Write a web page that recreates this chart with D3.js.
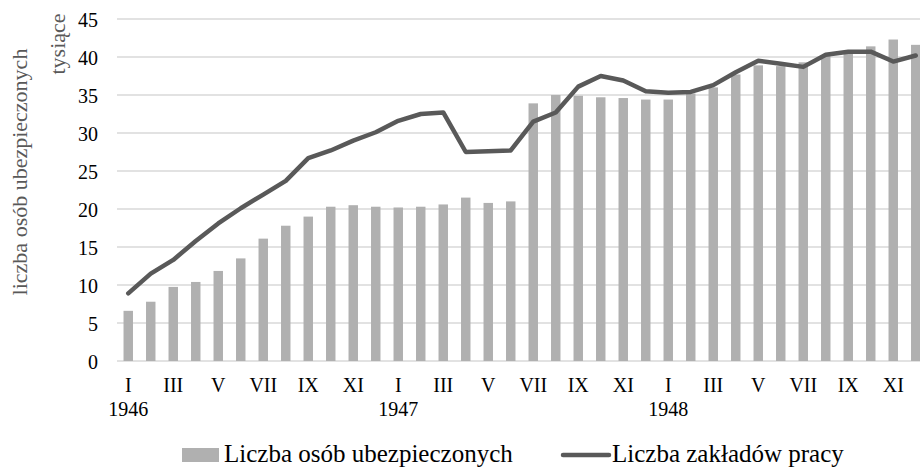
<!DOCTYPE html>
<html>
<head>
<meta charset="utf-8">
<script src="https://cdn.jsdelivr.net/npm/d3@7"></script>
<style>
  body { margin: 0; background: #fff; }
  svg text { font-family: "Liberation Serif", "Times New Roman", serif; }
</style>
</head>
<body>
<div id="chart"></div>
<script>
'use strict';

var miesiace = ['I', 'II', 'III', 'IV', 'V', 'VI', 'VII', 'VIII', 'IX', 'X', 'XI', 'XII'];
var lata = ['1946', '1947', '1948'];

// liczba osób ubezpieczonych (tys.)
var ubezpieczeni = [6.6, 7.8, 9.75, 10.4, 11.85, 13.5, 16.1, 17.8, 19.0, 20.3, 20.5, 20.3,
  20.2, 20.3, 20.6, 21.5, 20.8, 21.0, 33.9, 35.0, 34.9, 34.7, 34.6, 34.4,
  34.4, 35.2, 36.0, 37.7, 38.9, 38.8, 39.3, 40.2, 40.5, 41.4, 42.3, 41.6];

// liczba zakładów pracy
var zaklady = [8.9, 11.5, 13.3, 15.8, 18.1, 20.1, 21.9, 23.7, 26.7, 27.7, 29.0, 30.1,
  31.6, 32.5, 32.7, 27.5, 27.6, 27.7, 31.5, 32.7, 36.1, 37.5, 36.9, 35.5,
  35.3, 35.4, 36.3, 38.0, 39.5, 39.1, 38.7, 40.3, 40.7, 40.7, 39.4, 40.2];

var yTicks = [0, 5, 10, 15, 20, 25, 30, 35, 40, 45];

var width = 920, height = 470;
var serif = '"Liberation Serif", "Times New Roman", serif';

var data = [];
lata.forEach(function(rok, r) {
  miesiace.forEach(function(m, i) {
    var k = r * 12 + i;
    data.push({ idx: k, miesiac: m, rok: rok, ub: ubezpieczeni[k], zk: zaklady[k] });
  });
});

var svg = d3.select('#chart').append('svg')
  .attr('width', width)
  .attr('height', height)
  .style('font-family', serif);

var x = d3.scaleBand()
  .domain(data.map(function(d) { return d.idx; }))
  .range([117, 927])
  .paddingInner(0.58)
  .paddingOuter(0.29);

var y = d3.scaleLinear()
  .domain([0, 45])
  .range([361, 19]);

// gridlines
svg.append('g')
  .selectAll('line')
  .data(yTicks)
  .enter().append('line')
  .attr('x1', 117)
  .attr('x2', width)
  .attr('y1', function(d) { return y(d); })
  .attr('y2', function(d) { return y(d); })
  .attr('stroke', '#d9d9d9')
  .attr('stroke-width', 1.5);

// y axis labels
var yAxis = svg.append('g')
  .attr('transform', 'translate(98,0)')
  .call(d3.axisLeft(y).tickValues(yTicks).tickSize(0).tickPadding(0));
yAxis.attr('font-family', null);
yAxis.select('.domain').remove();
yAxis.selectAll('text')
  .style('font-family', serif)
  .attr('font-size', 20)
  .attr('fill', '#000')
  .attr('dy', '0.38em');

// bars
svg.append('g')
  .selectAll('rect')
  .data(data)
  .enter().append('rect')
  .attr('x', function(d) { return x(d.idx); })
  .attr('y', function(d) { return y(d.ub); })
  .attr('width', x.bandwidth())
  .attr('height', function(d) { return y(0) - y(d.ub); })
  .attr('fill', '#b0b0b0');

// line
var line = d3.line()
  .x(function(d) { return x(d.idx) + x.bandwidth() / 2; })
  .y(function(d) { return y(d.zk); });

svg.append('path')
  .datum(data)
  .attr('d', line)
  .attr('fill', 'none')
  .attr('stroke', '#595959')
  .attr('stroke-width', 4.5)
  .attr('stroke-linejoin', 'round')
  .attr('stroke-linecap', 'round');

// x axis: months (every second) and years
var xAxis = svg.append('g')
  .attr('transform', 'translate(0,' + 376 + ')')
  .call(d3.axisBottom(x)
    .tickSize(0)
    .tickPadding(0)
    .tickFormat(function(k) { return k % 2 === 0 ? data[k].miesiac : ''; }));
xAxis.attr('font-family', null);
xAxis.select('.domain').remove();
xAxis.selectAll('text')
  .style('font-family', serif)
  .attr('font-size', 20)
  .attr('fill', '#000')
  .attr('dy', '0.8em');

svg.append('g')
  .selectAll('text')
  .data(data.filter(function(d) { return d.miesiac === 'I'; }))
  .enter().append('text')
  .attr('x', function(d) { return x(d.idx) + x.bandwidth() / 2; })
  .attr('y', 416)
  .attr('text-anchor', 'middle')
  .attr('font-size', 20)
  .attr('fill', '#000')
  .text(function(d) { return d.rok; });

// axis titles
svg.append('text')
  .attr('transform', 'translate(27,172) rotate(-90)')
  .attr('text-anchor', 'middle')
  .attr('font-size', 22)
  .attr('fill', '#595959')
  .text('liczba osób ubezpieczonych');

svg.append('text')
  .attr('transform', 'translate(65,44) rotate(-90)')
  .attr('text-anchor', 'middle')
  .attr('font-size', 22)
  .attr('fill', '#595959')
  .text('tysiące');

// legend
var legend = svg.append('g');
legend.append('rect')
  .attr('x', 182)
  .attr('y', 448)
  .attr('width', 37)
  .attr('height', 14)
  .attr('fill', '#b0b0b0');
legend.append('text')
  .attr('x', 224)
  .attr('y', 462)
  .attr('font-size', 25)
  .attr('fill', '#000')
  .text('Liczba osób ubezpieczonych');
legend.append('line')
  .attr('x1', 563)
  .attr('x2', 609)
  .attr('y1', 455)
  .attr('y2', 455)
  .attr('stroke', '#595959')
  .attr('stroke-width', 4.5)
  .attr('stroke-linecap', 'round');
legend.append('text')
  .attr('x', 612)
  .attr('y', 462)
  .attr('font-size', 25)
  .attr('fill', '#000')
  .text('Liczba zakładów pracy');
</script>
</body>
</html>
